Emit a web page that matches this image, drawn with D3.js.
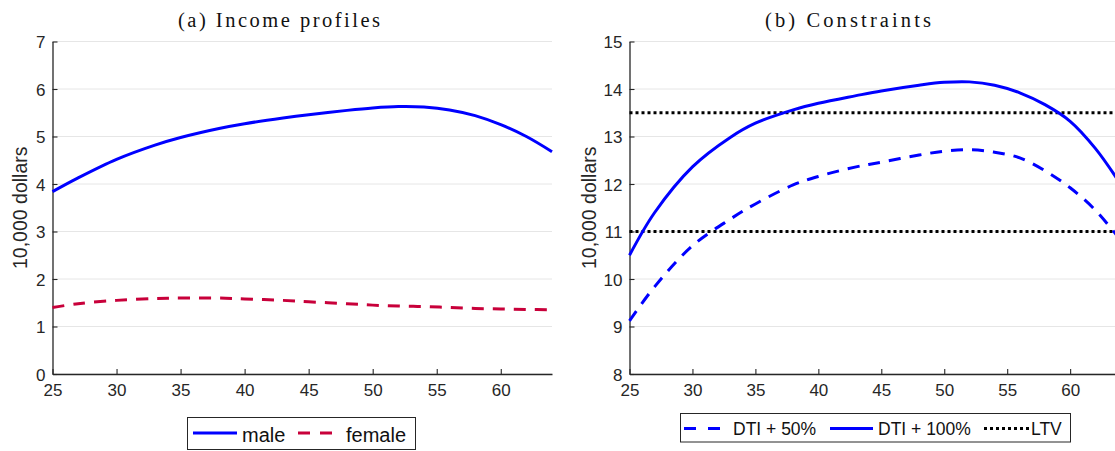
<!DOCTYPE html>
<html>
<head>
<meta charset="utf-8">
<script src="https://cdn.jsdelivr.net/npm/d3@7"></script>
<style>
  html, body { margin: 0; padding: 0; background: #fff; overflow: hidden; }
  svg { display: block; }
</style>
</head>
<body>
<svg id="fig" width="1115" height="451"></svg>
<script>
// Ages at which each profile is tabulated
const ages = [25, 27, 30, 33, 35, 38, 40, 43, 45, 48, 50, 52, 54, 56, 58, 60, 62, 64];

// (a) Income profiles, in 10,000 dollars
const maleIncome   = [3.84, 4.13, 4.52, 4.82, 4.98, 5.17, 5.27, 5.39, 5.46, 5.55, 5.60, 5.63, 5.62, 5.56, 5.44, 5.25, 5.00, 4.68];
const femaleIncome = [1.40, 1.48, 1.55, 1.59, 1.60, 1.60, 1.58, 1.55, 1.52, 1.48, 1.45, 1.43, 1.42, 1.40, 1.38, 1.37, 1.36, 1.35];

// (b) Borrowing constraints, in 10,000 dollars
const dti50  = [9.12, 9.84, 10.70, 11.26, 11.58, 11.98, 12.16, 12.36, 12.46, 12.61, 12.69, 12.72, 12.67, 12.55, 12.28, 11.92, 11.45, 10.82];
const dti100 = [10.50, 11.40, 12.36, 12.98, 13.28, 13.56, 13.70, 13.86, 13.96, 14.08, 14.14, 14.15, 14.08, 13.92, 13.67, 13.32, 12.75, 12.00];
const ltvLevels = [13.5, 11.0];

// Axis ticks
const ageTicks = [25, 30, 35, 40, 45, 50, 55, 60];
const incomeTicks = [0, 1, 2, 3, 4, 5, 6, 7];
const constraintTicks = [8, 9, 10, 11, 12, 13, 14, 15];

// Legend labels
const incomeLegend = ["male", "female"];
const constraintLegend = ["DTI + 50%", "DTI + 100%", "LTV"];

const BLUE = "#0000ff";
const RED = "#c8003a";
const INK = "#262626";
const GRID = "#e6e6e6";
const SANS = "Liberation Sans, Arial, Helvetica, sans-serif";
const SERIF = "Liberation Serif, Times New Roman, serif";

const svg = d3.select("#fig");

function panel(opts) {
  const x = d3.scaleLinear().domain([25, 64]).range(opts.xRange);
  const y = d3.scaleLinear().domain(opts.yDomain).range([374, 41.5]);
  const g = svg.append("g");

  // horizontal grid
  g.append("g").selectAll("line").data(opts.yTicks).join("line")
    .attr("x1", opts.xRange[0]).attr("x2", opts.xRange[1])
    .attr("y1", d => y(d)).attr("y2", d => y(d))
    .attr("stroke", GRID).attr("stroke-width", 1);

  // axes with inward ticks
  const fmt = d3.format("d");
  const xAxis = g.append("g").attr("transform", `translate(0,${y(opts.yDomain[0])})`)
    .call(d3.axisBottom(x).tickValues(ageTicks).tickFormat(fmt).tickSizeInner(-5).tickSizeOuter(0));
  const yAxis = g.append("g").attr("transform", `translate(${opts.xRange[0]},0)`)
    .call(d3.axisLeft(y).tickValues(opts.yTicks).tickFormat(fmt).tickSizeInner(-5).tickSizeOuter(0));
  [xAxis, yAxis].forEach(a => {
    a.select(".domain").attr("stroke", INK).attr("stroke-width", 1.3);
    a.selectAll(".tick line").attr("stroke", INK).attr("stroke-width", 1.1);
    a.selectAll(".tick text").attr("fill", INK).attr("font-family", SANS).attr("font-size", 17);
  });
  xAxis.selectAll(".tick text").attr("y", 10).attr("dy", "0.71em");
  yAxis.selectAll(".tick text").attr("x", -7).attr("dy", "0.36em");

  // title
  g.append("text").attr("x", opts.titleX).attr("y", 27)
    .attr("text-anchor", "middle").attr("font-family", SERIF).attr("font-size", 20.5)
    .attr("fill", "#111").attr("textLength", opts.titleLen).attr("lengthAdjust", "spacing")
    .text(opts.title);

  // y label
  g.append("text")
    .attr("transform", `translate(${opts.yLabelX},${(y.range()[0] + y.range()[1]) / 2}) rotate(-90)`)
    .attr("text-anchor", "middle").attr("font-family", SANS).attr("font-size", 19.5)
    .attr("fill", INK).text("10,000 dollars");

  return { g, x, y };
}

const line = (x, y) => d3.line().x((d, i) => x(ages[i])).y(d => y(d)).curve(d3.curveCatmullRom.alpha(0.5));

// ---------- (a) Income profiles ----------
const a = panel({
  xRange: [52.5, 552], yDomain: [0, 7], yTicks: incomeTicks,
  title: "(a) Income profiles", titleX: 279, titleLen: 202, yLabelX: 27
});
a.g.append("path").datum(femaleIncome).attr("d", line(a.x, a.y))
  .attr("fill", "none").attr("stroke", RED).attr("stroke-width", 3).attr("stroke-dasharray", "12,9");
a.g.append("path").datum(maleIncome).attr("d", line(a.x, a.y))
  .attr("fill", "none").attr("stroke", BLUE).attr("stroke-width", 3);

// legend (a)
const la = svg.append("g");
la.append("rect").attr("x", 187.5).attr("y", 417.5).attr("width", 228).attr("height", 32)
  .attr("fill", "#fff").attr("stroke", INK).attr("stroke-width", 1);
const laItems = [
  { label: incomeLegend[0], color: BLUE, dash: null, x0: 193, x1: 237, tx: 242 },
  { label: incomeLegend[1], color: RED, dash: "12,10", x0: 298, x1: 334, tx: 346 }
];
laItems.forEach(it => {
  la.append("line").attr("x1", it.x0).attr("x2", it.x1).attr("y1", 433).attr("y2", 433)
    .attr("stroke", it.color).attr("stroke-width", 3).attr("stroke-dasharray", it.dash);
  la.append("text").attr("x", it.tx).attr("y", 441.5).attr("font-family", SANS)
    .attr("font-size", 20).attr("fill", "#111").text(it.label);
});

// ---------- (b) Constraints ----------
const b = panel({
  xRange: [629.5, 1120.5], yDomain: [8, 15], yTicks: constraintTicks,
  title: "(b) Constraints", titleX: 848, titleLen: 166, yLabelX: 596
});
b.g.selectAll(".ltv").data(ltvLevels).join("line").attr("class", "ltv")
  .attr("x1", b.x(25)).attr("x2", b.x(64))
  .attr("y1", d => b.y(d)).attr("y2", d => b.y(d))
  .attr("stroke", "#000").attr("stroke-width", 3).attr("stroke-dasharray", "3,3");
b.g.append("path").datum(dti50).attr("d", line(b.x, b.y))
  .attr("fill", "none").attr("stroke", BLUE).attr("stroke-width", 3).attr("stroke-dasharray", "12,9");
b.g.append("path").datum(dti100).attr("d", line(b.x, b.y))
  .attr("fill", "none").attr("stroke", BLUE).attr("stroke-width", 3);

// legend (b)
const lb = svg.append("g");
lb.append("rect").attr("x", 680.5).attr("y", 413.5).attr("width", 390).attr("height", 28.5)
  .attr("fill", "#fff").attr("stroke", INK).attr("stroke-width", 1);
const lbItems = [
  { label: constraintLegend[0], color: BLUE, dash: "12,12", x0: 684, x1: 721, tx: 733 },
  { label: constraintLegend[1], color: BLUE, dash: null, x0: 830, x1: 873, tx: 878 },
  { label: constraintLegend[2], color: "#000", dash: "3,3", x0: 984, x1: 1029, tx: 1031 }
];
lbItems.forEach(it => {
  lb.append("line").attr("x1", it.x0).attr("x2", it.x1).attr("y1", 428.5).attr("y2", 428.5)
    .attr("stroke", it.color).attr("stroke-width", 3).attr("stroke-dasharray", it.dash);
  lb.append("text").attr("x", it.tx).attr("y", 435).attr("font-family", SANS)
    .attr("font-size", 17.5).attr("fill", "#111").text(it.label);
});
</script>
</body>
</html>
